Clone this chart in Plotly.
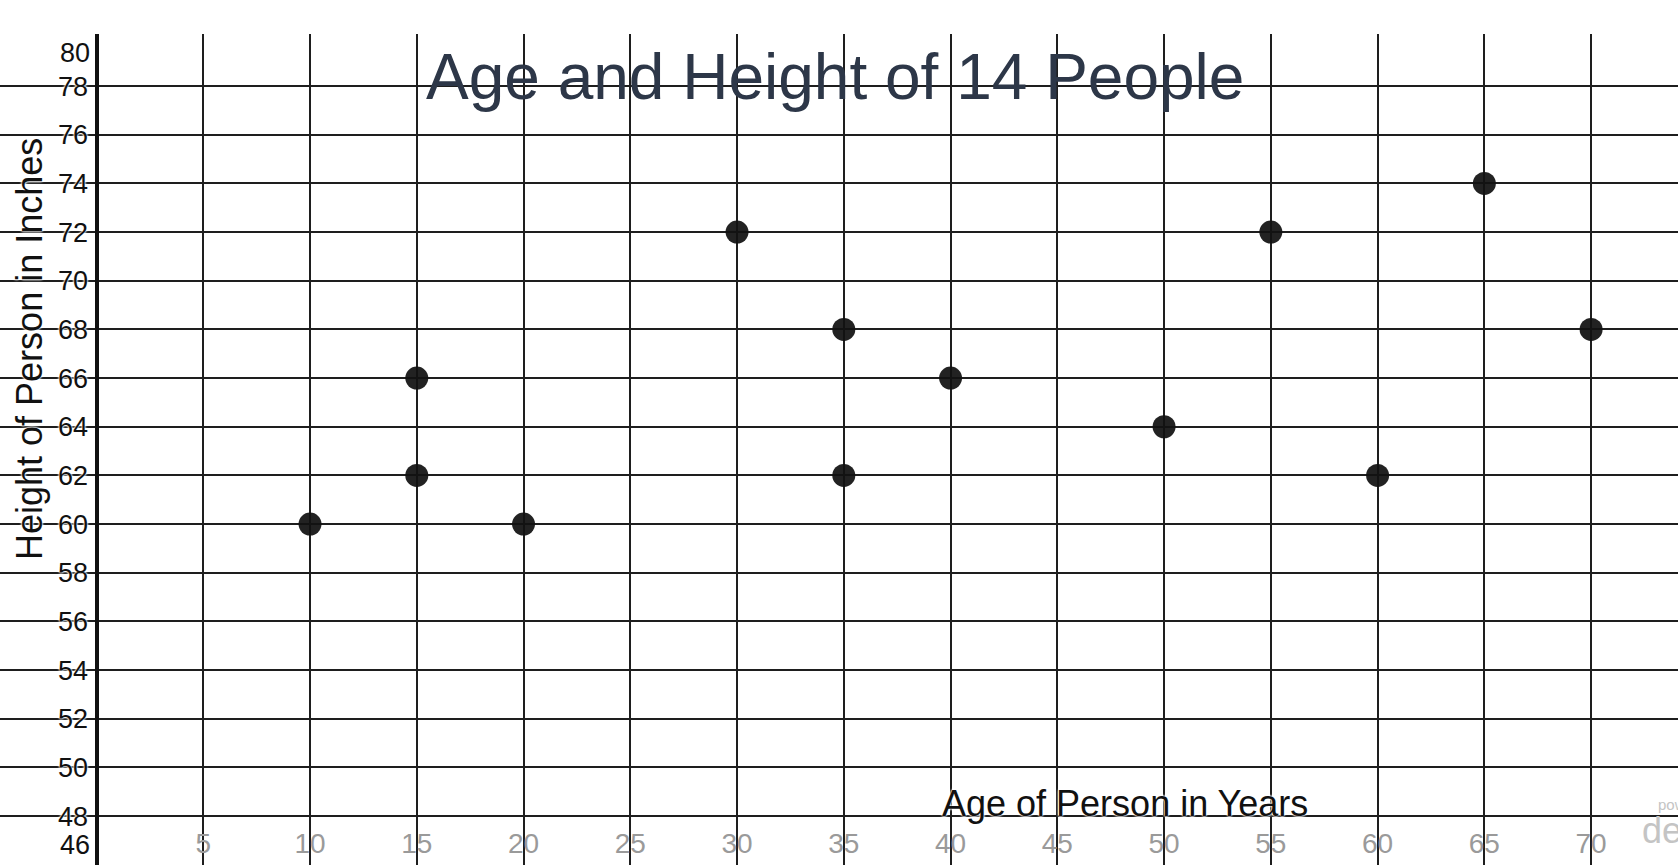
import plotly.graph_objects as go

# Data
ages = [10, 15, 15, 20, 30, 35, 35, 40, 50, 55, 60, 65, 70]
heights = [60, 62, 66, 60, 72, 68, 62, 66, 64, 72, 62, 74, 68]

x_ticks = list(range(5, 75, 5))
y_ticks = list(range(48, 80, 2))
y_edge_ticks = [80, 46]

title_text = "Age and Height of 14 People"
x_title = "Age of Person in Years"
y_title = "Height of Person in Inches"

W, H = 1678, 865
TOP = 34
FONT = "Arial, Liberation Sans, sans-serif"
HALO = "0 0 2px white, 0 0 2px white, 0 0 3px white"

fig = go.Figure()
fig.add_trace(go.Scatter(
    x=ages, y=heights, mode="markers",
    marker=dict(size=23, color="#111111", opacity=0.93, line=dict(width=0)),
    hoverinfo="x+y", showlegend=False,
))

fig.update_layout(
    width=W, height=H,
    margin=dict(l=0, r=0, t=TOP, b=0, pad=0),
    paper_bgcolor="white", plot_bgcolor="white",
    font=dict(family=FONT),
    xaxis=dict(
        range=[-4.52, 74.07],
        tickvals=x_ticks, ticktext=[str(v) for v in x_ticks],
        showgrid=True, gridcolor="#1e1e1e", gridwidth=1.6,
        zeroline=False,
        showline=True, linecolor="#1a1a24", linewidth=4,
        ticks="", ticklabelposition="inside",
        tickfont=dict(size=28, color="#9a9a9a", family=FONT),
        ticklabelstandoff=9,
        fixedrange=True,
    ),
    yaxis=dict(
        range=[45.99, 80.14],
        tickvals=y_ticks, ticktext=[str(v) for v in y_ticks],
        showgrid=True, gridcolor="#1e1e1e", gridwidth=1.6,
        zeroline=False,
        anchor="free", position=96.5 / W,
        showline=True, linecolor="#111111", linewidth=4,
        ticks="", ticklabelstandoff=1,
        tickfont=dict(size=27, color="#111111", family=FONT, shadow=HALO),
        fixedrange=True,
    ),
)

# Clamped edge tick labels (80 at top, 46 at bottom)
for v, shift in zip(y_edge_ticks, [-16, 20]):
    fig.add_annotation(
        x=96.5 / W, xref="paper", y=v, yref="y",
        text=str(v), showarrow=False, xanchor="right", yanchor="middle",
        xshift=-5, yshift=shift,
        font=dict(size=27, color="#111111", family=FONT, shadow=HALO),
    )

def py(px):
    return (H - px) / (H - TOP)

# Title
fig.add_annotation(
    x=835 / W, xref="paper", y=py(77), yref="paper",
    text=title_text, showarrow=False, xanchor="center", yanchor="middle",
    font=dict(size=64, color="#2d3748", family=FONT),
)
# X axis title
fig.add_annotation(
    x=1125 / W, xref="paper", y=py(803), yref="paper",
    text=x_title, showarrow=False, xanchor="center", yanchor="middle",
    font=dict(size=36, color="#111111", family=FONT, shadow=HALO),
)
# Y axis title
fig.add_annotation(
    x=30 / W, xref="paper", y=py(349), yref="paper",
    text=y_title, showarrow=False, xanchor="center", yanchor="middle",
    textangle=-90,
    font=dict(size=36, color="#111111", family=FONT, shadow=HALO),
)
# Watermark (partially cut off at the right edge, as in the reference)
fig.add_annotation(
    x=1656 / W, xref="paper", y=py(804), yref="paper",
    text="powered by", showarrow=False, xanchor="left", yanchor="middle",
    font=dict(size=15, color="#c4c4c4", family=FONT),
)
fig.add_annotation(
    x=1640 / W, xref="paper", y=py(830), yref="paper",
    text="desmos", showarrow=False, xanchor="left", yanchor="middle",
    font=dict(size=36, color="#c4c4c4", family=FONT),
)

fig.write_html("out.html", config={"displayModeBar": False})
